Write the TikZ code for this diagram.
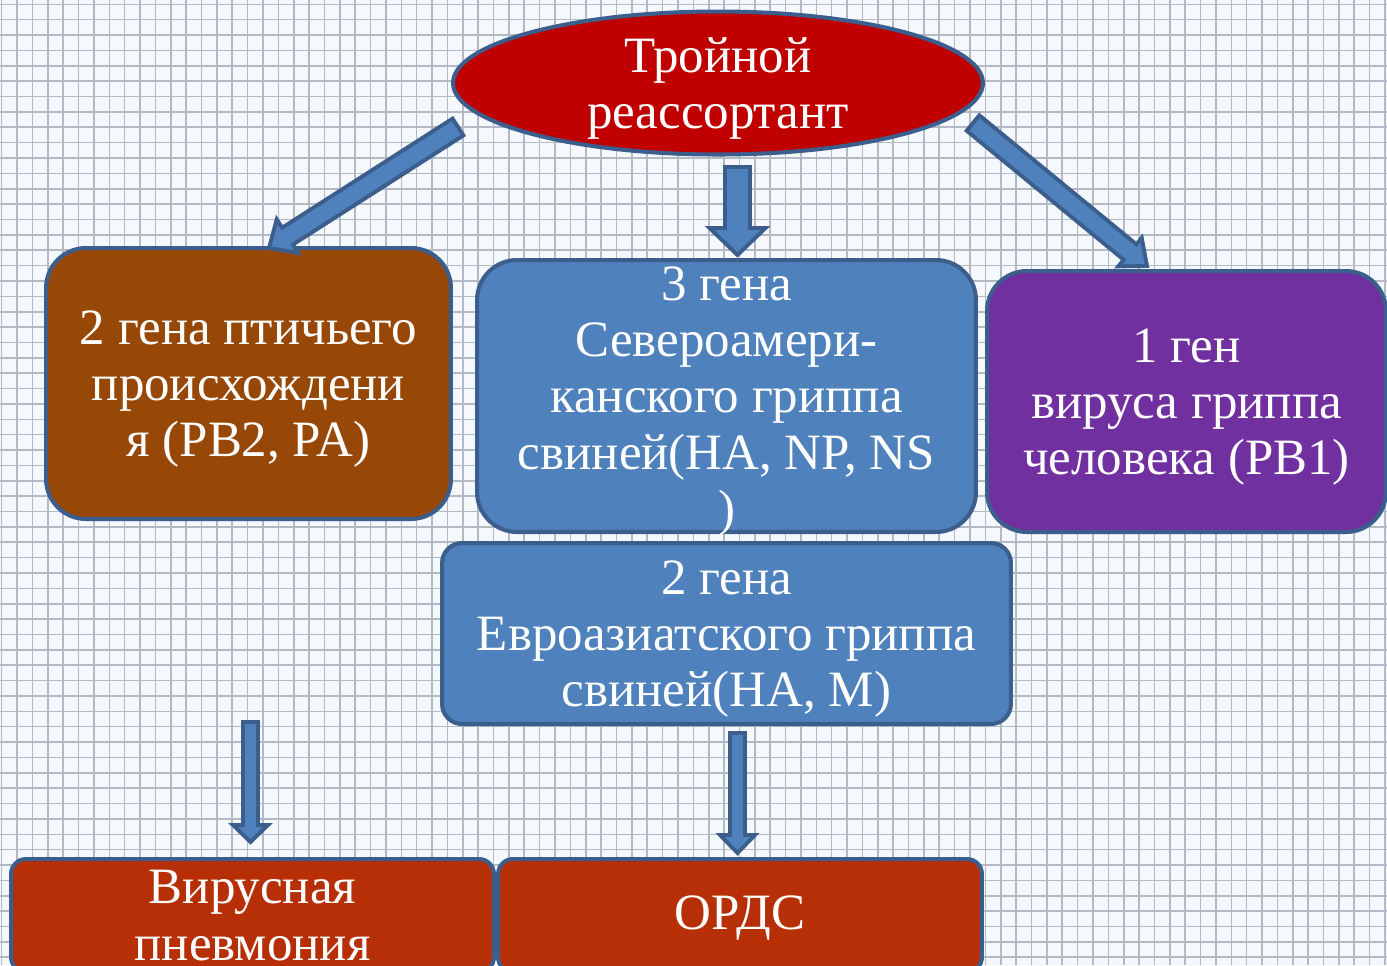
\documentclass[tikz,border=0pt]{standalone}
\usepackage{fontspec}
\setmainfont{Liberation Serif}
\usetikzlibrary{shapes.geometric,calc}
\definecolor{bordc}{HTML}{3B5E8C}
\definecolor{redc}{HTML}{C00000}
\definecolor{brownc}{HTML}{974806}
\definecolor{bluec}{HTML}{4F81BD}
\definecolor{purplec}{HTML}{7030A0}
\definecolor{rustc}{HTML}{B72F06}
\definecolor{gridc}{HTML}{B3BAC4}
\definecolor{bgc}{HTML}{F5F8FC}
\tikzset{
  txt/.style={text=white, font=\fontsize{29}{32.1}\selectfont, align=center, inner sep=0pt, yshift=-0.11cm},
  box/.style={draw=bordc, line width=2.3pt, inner sep=0pt},
  barrow/.style={draw=bordc, fill=bluec, line width=2.2pt, line join=miter},
  gridline/.style={draw=gridc, line width=0.9pt},
}
% #1 start, #2 tip, #3 shaft half width, #4 head half width, #5 head length
\newcommand\blockarrow[5]{%
  \coordinate (hb) at ($(#2)!#5!(#1)$);
  \draw[barrow] ($(#1)!#3!90:(#2)$) -- ($(hb)!#3!90:(#2)$) -- ($(hb)!#4!90:(#2)$) -- (#2)
     -- ($(hb)!#4!-90:(#2)$) -- ($(hb)!#3!-90:(#2)$) -- ($(#1)!#3!-90:(#2)$) -- cycle;
}
\begin{document}
\begin{tikzpicture}[x=0.02cm, y=-0.02cm]
\useasboundingbox (0,0) rectangle (1387,965);
\clip (0,0) rectangle (1387,965);
\fill[bgc] (0,0) rectangle (1387,965);
\foreach \i in {0,...,90} \draw[gridline] ({1.7+15.37*\i},0) -- ++(0,965);
\foreach \i in {0,...,63} \draw[gridline] (0,{4.3+15.37*\i}) -- ++(1387,0);

% top ellipse
\node[ellipse, draw=bordc, line width=2.3pt, fill=redc, minimum width=10.6cm, minimum height=2.86cm, inner sep=0pt] (top) at (718,83) {};
\node[txt] (toptext) at (top.center) {Тройной\\реассортант};

% second row
\node[box, fill=brownc, rounded corners=0.8cm, minimum width=8.1cm, minimum height=5.42cm] (left) at (248.5,383.5) {};
\node[txt] (lefttext) at (left.center) {2 гена птичьего\\происхождени\\я (PB2, PA)};

\node[box, fill=bluec, rounded corners=0.8cm, minimum width=9.98cm, minimum height=5.44cm] (mid) at (726.5,396) {};
\node[txt] (midtext) at (mid.center) {3 гена\\Североамери-\\канского гриппа\\свиней(HA, NP, NS\\)};

\node[box, fill=purplec, rounded corners=0.8cm, minimum width=7.98cm, minimum height=5.22cm] (right) at (1186.5,401.5) {};
\node[txt] (righttext) at (right.center) {1 ген\\вируса гриппа\\человека (PB1)};

\node[box, fill=bluec, rounded corners=0.4cm, minimum width=11.38cm, minimum height=3.62cm] (euro) at (726.5,633.5) {};
\node[txt] (eurotext) at (euro.center) {2 гена\\Евроазиатского гриппа\\свиней(HA, M)};

% bottom row
\node[box, fill=rustc, rounded corners=0.3cm, minimum width=9.66cm, minimum height=2.26cm] (pneu) at (252.5,915.5) {};
\node[txt, yshift=0.11cm] (pneutext) at (pneu.center) {Вирусная\\пневмония};

\node[box, fill=rustc, rounded corners=0.3cm, minimum width=9.68cm, minimum height=2.26cm] (ards) at (740,915.5) {};
\node[txt, yshift=0.06cm] (ardstext) at (ards.center) {ОРДС};

% arrows
\coordinate (a1s) at (458,127);   \coordinate (a1t) at (269,248);
\coordinate (a2s) at (737.5,167); \coordinate (a2t) at (737.5,255);
\coordinate (a3s) at (973,123);   \coordinate (a3t) at (1147,266);
\coordinate (a4s) at (250.5,722); \coordinate (a4t) at (250.5,842);
\coordinate (a5s) at (737.5,733); \coordinate (a5t) at (737.5,853);
\blockarrow{a1s}{a1t}{0.2cm}{0.4cm}{0.44cm}
\blockarrow{a2s}{a2t}{0.25cm}{0.56cm}{0.54cm}
\blockarrow{a3s}{a3t}{0.2cm}{0.37cm}{0.44cm}
\blockarrow{a4s}{a4t}{0.15cm}{0.35cm}{0.34cm}
\blockarrow{a5s}{a5t}{0.15cm}{0.35cm}{0.36cm}
\end{tikzpicture}
\end{document}
